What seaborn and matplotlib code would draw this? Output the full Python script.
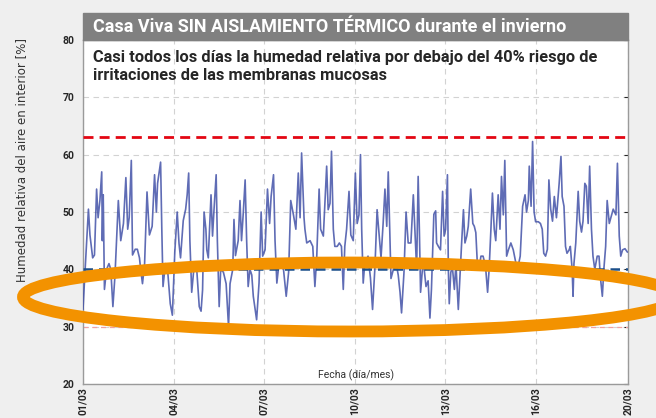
import pandas as pd
import matplotlib.pyplot as plt
from matplotlib.patches import Ellipse, Rectangle
import seaborn as sns

# Humedad relativa interior (tiempo en dias desde el 01/03)
t_day = [
    0.00, 0.05, 0.18, 0.23, 0.32, 0.38, 0.45, 0.50, 0.56, 0.62, 0.64, 0.67, 0.71, 0.78, 0.86, 0.92, 0.99,
    1.06, 1.17, 1.25, 1.34, 1.42, 1.48, 1.53, 1.60, 1.64, 1.73, 1.80, 1.87, 1.91, 1.97,
    2.04, 2.12, 2.20, 2.29, 2.37, 2.43, 2.47, 2.57, 2.61, 2.65, 2.73, 2.80, 2.89, 2.96,
    3.04, 3.12, 3.18, 3.23, 3.32, 3.40, 3.45, 3.50, 3.54, 3.60, 3.67, 3.76, 3.85, 3.91, 3.96,
    4.01, 4.07, 4.10, 4.15, 4.24, 4.29, 4.34, 4.41, 4.45, 4.51, 4.56, 4.65, 4.74, 4.82, 4.87, 4.96,
    5.00, 5.05, 5.14, 5.20, 5.25, 5.31, 5.37, 5.42, 5.47, 5.53, 5.59, 5.64, 5.75, 5.83, 5.90, 5.95,
    6.03, 6.11, 6.18, 6.23, 6.31, 6.36, 6.42, 6.47, 6.53, 6.64, 6.73, 6.81, 6.88, 6.97,
    7.05, 7.13, 7.19, 7.24, 7.32, 7.35, 7.41, 7.52, 7.61, 7.68, 7.74, 7.82, 7.87, 7.96,
    8.07, 8.12, 8.18, 8.23, 8.29, 8.34, 8.42, 8.49, 8.56, 8.62, 8.67, 8.73, 8.81, 8.87, 8.95,
    9.02, 9.08, 9.14, 9.19, 9.23, 9.28, 9.33, 9.44, 9.52, 9.59, 9.67, 9.74, 9.81, 9.87, 9.94,
    10.00, 10.06, 10.11, 10.17, 10.20, 10.28, 10.39, 10.44, 10.50, 10.55, 10.63, 10.70, 10.77, 10.86, 10.94, 10.99,
    11.05, 11.10, 11.14, 11.18, 11.25, 11.30, 11.36, 11.43, 11.49, 11.54, 11.62, 11.68, 11.71, 11.77, 11.84, 11.91, 11.96,
    12.01, 12.07, 12.10, 12.13, 12.18, 12.23, 12.30, 12.35, 12.43, 12.49, 12.54, 12.60, 12.65, 12.71, 12.76, 12.84, 12.91, 12.96,
    13.01, 13.06, 13.11, 13.18, 13.25, 13.33, 13.40, 13.45, 13.51, 13.56, 13.62, 13.67, 13.75, 13.81, 13.86, 13.92, 13.97,
    14.03, 14.09, 14.17, 14.25, 14.34, 14.39, 14.48, 14.56, 14.64, 14.69, 14.75, 14.78, 14.84, 14.89, 14.94, 14.99,
    15.08, 15.15, 15.21, 15.26, 15.32, 15.38, 15.43, 15.49, 15.55, 15.61, 15.68, 15.77, 15.83, 15.87, 15.93, 15.98,
    16.03, 16.10, 16.14, 16.20, 16.23, 16.26, 16.32, 16.40, 16.45, 16.51, 16.56, 16.62, 16.67, 16.73, 16.78, 16.84, 16.89, 16.95,
    17.03, 17.09, 17.14, 17.20, 17.25, 17.31, 17.36, 17.43, 17.51, 17.56, 17.65, 17.70, 17.76, 17.81, 17.87, 17.95, 18.03,
]
rh = [
    33, 38, 50.5, 46, 42, 42.5, 54, 49, 52, 57, 45, 53, 36.5, 40, 41, 40, 33.5,
    39, 52, 45, 48, 56, 47, 49, 59, 42.5, 43.5, 43.5, 42, 40, 37.5,
    41, 53.5, 46, 47.5, 56.5, 50, 55, 58.7, 47, 37, 41, 40, 34, 32,
    43, 50, 44.5, 42, 48.5, 50.5, 53, 56.8, 45, 36, 40, 40.5, 33.5, 32.7, 36.4,
    50, 47, 43.4, 42, 53, 45.8, 50.5, 56.5, 45, 33.5, 40, 39.5, 37.5, 30, 37.5, 40,
    48.7, 42.4, 45, 52, 45, 50, 55.6, 45, 37, 40, 39, 35.3, 31.2, 37.6, 50, 42.3,
    43.4, 54, 48, 52.7, 56.5, 45, 37.6, 40, 40.5, 40, 35.3, 39.5, 52, 49.5,
    47, 56.8, 49, 60.3, 49, 47, 44.6, 45, 44, 37, 42, 54, 47, 45.8,
    58, 50.4, 51.5, 60.6, 47, 44, 44, 44.6, 44, 36.5, 44, 47, 53.6, 46, 45,
    56.8, 48, 49.5, 60, 47, 37.6, 41, 42.3, 38.5, 33, 40.5, 50.4, 45.8, 42, 48,
    54, 47.5, 57, 44.6, 38.4, 40, 40.5, 39, 36, 32.4, 39.4, 50, 44.6, 44.6, 53, 47,
    40, 56.2, 47, 36, 40.6, 40, 37, 38, 31.5, 36.5, 49.6, 50.2, 44.6, 44, 43.4, 53.6, 45.8,
    47, 56.5, 40, 34, 39.4, 40.6, 36.5, 41, 33, 39.4, 44.6, 50.4, 44.6, 45.8, 47.5, 54, 48, 47.5,
    46.4, 41, 40, 42.3, 42.3, 40.6, 36, 40, 47, 53.3, 47, 45, 53, 47, 56.2, 49.5, 59,
    42.3, 43.4, 44.6, 43.4, 41, 40, 42.3, 51, 53, 50, 52, 58, 51, 62.3, 50, 48.3,
    48.3, 48, 47, 42.8, 42.3, 43.5, 55.6, 50.5, 48.4, 52.7, 49, 55, 59.7, 52.7, 51, 44,
    42.8, 43.4, 44, 40, 35.3, 41, 44.6, 53.6, 48.4, 46.5, 48.4, 55, 54.5, 48, 58, 47, 42.3, 40,
    42.3, 42.3, 38.4, 35.3, 40, 44, 52, 48, 49.5, 50.5, 49.5, 58.5, 45.8, 42.3, 43.4, 43.6, 43,
]

tick_pos = [0, 3, 6, 9, 12, 15, 18.05]
tick_labels = ['01/03', '04/03', '07/03', '10/03', '13/03', '16/03', '20/03']
y_ticks = [20, 30, 40, 50, 60, 70, 80]
limit_high = 63
limit_low = 40
limit_min = 30

title = 'Casa Viva SIN AISLAMIENTO TÉRMICO durante el invierno'
note = ('Casi todos los días la humedad relativa por debajo del 40% riesgo de\n'
        'irritaciones de las membranas mucosas')

sns.set_style('white')
plt.rcParams['font.family'] = ['Roboto', 'DejaVu Sans']

fig = plt.figure(figsize=(6.56, 4.18), dpi=100, facecolor='#efefef')
ax = fig.add_axes([83 / 656, 1 - 384 / 418, 545 / 656, 344 / 418])

df = pd.DataFrame({'dia': t_day, 'hr': rh})
sns.lineplot(data=df, x='dia', y='hr', ax=ax, color='#4352a8', lw=1.2,
             alpha=0.85, zorder=3)

# lineas de referencia
ax.axhline(limit_high, color='#e30613', lw=2, dashes=(3.6, 2.2), zorder=4)
ax.axhline(limit_low, color='#1b4f8a', lw=1.8, dashes=(3.8, 2.4), zorder=4)
ax.axhline(limit_min, color='#f2a0a0', lw=0.9, dashes=(4, 3), zorder=2)

ax.set_xlim(tick_pos[0], tick_pos[-1])
ax.set_ylim(20, 80)
ax.set_xticks(tick_pos)
ax.set_xticklabels(tick_labels, rotation=90, fontweight='bold', fontsize=7.5)
ax.set_yticks(y_ticks)
ax.set_yticklabels(y_ticks, fontweight='bold', fontsize=7.5)
ax.tick_params(axis='y', length=3, direction='in', right=True, pad=6)
ax.tick_params(axis='x', length=0, pad=2)
ax.grid(True, color='#d2d2d2', lw=0.8, ls=(0, (5, 4)))
for s in ax.spines.values():
    s.set_color('#9a9a9a')
    s.set_linewidth(1)

ax.set_xlabel('')
ax.set_ylabel('Humedad relativa del aire en interior [%]', family=['DejaVu Sans'],
              fontsize=8.5, color='#333333')
ax.yaxis.set_label_coords(-0.1, 0.65)
ax.text(0.5, 0.025, 'Fecha (día/mes)', transform=ax.transAxes, ha='center',
        va='center', fontsize=7.5, color='#333333')
note_txt = ax.text(0.018, 0.972, note, transform=ax.transAxes, va='top', ha='left',
                   fontsize=10.5, fontweight='bold', linespacing=1.3)

# banda de titulo
fig.add_artist(Rectangle((83 / 656, 1 - 40 / 418), 545 / 656, 27 / 418,
                         transform=fig.transFigure, color='#808080', zorder=5))
title_txt = fig.text(93 / 656, 1 - 27 / 418, title, va='center', ha='left',
                     color='white', fontsize=12.5, fontweight='bold', zorder=6)

# ajustar tamanos para que los textos ocupen el mismo ancho que en el original
renderer = fig.canvas.get_renderer()
for txt, target in [(title_txt, 475), (note_txt, 505)]:
    w = txt.get_window_extent(renderer).width
    txt.set_fontsize(txt.get_fontsize() * target / w)

# elipse naranja que resalta la zona bajo el 40%
fig.add_artist(Ellipse((350 / 656, 1 - 297 / 418), 654 / 656, 69 / 418,
                       transform=fig.transFigure, fill=False, ec='#f39200',
                       lw=8.5, zorder=10))

fig.savefig('out.png', dpi=100, facecolor=fig.get_facecolor())
